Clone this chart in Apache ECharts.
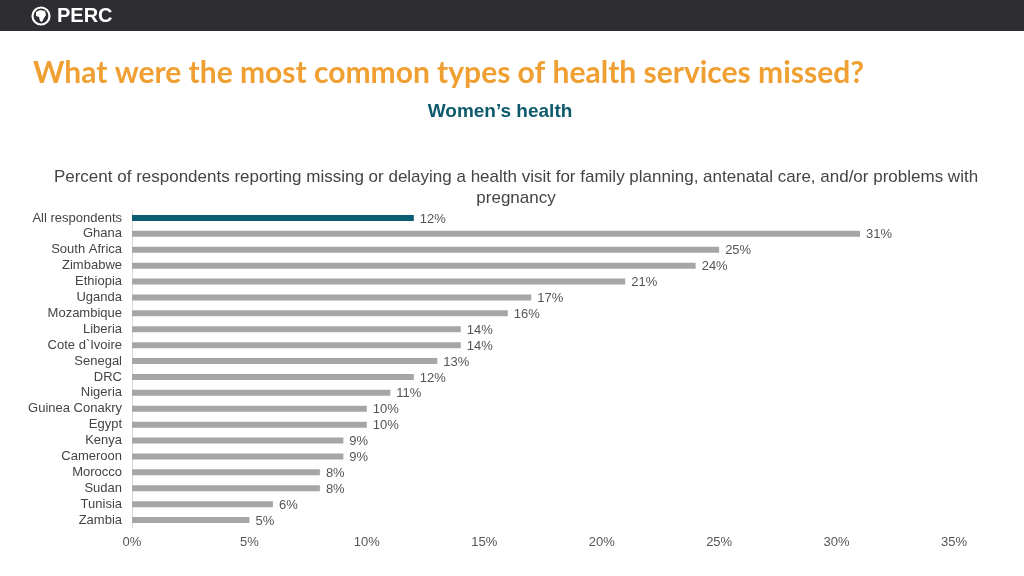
<!DOCTYPE html>
<html>
<head>
<meta charset="utf-8">
<script src="https://cdn.jsdelivr.net/npm/echarts@6/dist/echarts.min.js"></script>
<style>
html,body{margin:0;padding:0;background:#fff;}
#chart{width:1024px;height:576px;}
</style>
</head>
<body>
<div id="chart"></div>
<script>
const categories = ["All respondents","Ghana","South Africa","Zimbabwe","Ethiopia","Uganda","Mozambique","Liberia","Cote d`Ivoire","Senegal","DRC","Nigeria","Guinea Conakry","Egypt","Kenya","Cameroon","Morocco","Sudan","Tunisia","Zambia"];
const values = [12,31,25,24,21,17,16,14,14,13,12,11,10,10,9,9,8,8,6,5];
const highlightCategory = "All respondents";
const pageTitle = "What were the most common types of health services missed?";
const subTitle = "Women’s health";
const chartTitle = "Percent of respondents reporting missing or delaying a health visit for family planning, antenatal care, and/or problems with\npregnancy";

const chart = echarts.init(document.getElementById('chart'), null, {renderer:'canvas'});
chart.setOption({
  animation:false,
  backgroundColor:'#ffffff',
  title:[{
    text: chartTitle,
    left: 511, top: 162, textAlign:'center',
    textStyle:{fontFamily:'Liberation Sans, Arial', fontSize:17, fontWeight:'normal', color:'#444444', lineHeight:21, align:'center'}
  }],
  graphic:[
    {type:'rect', left:0, top:0, shape:{width:1024,height:31}, style:{fill:'#2d2d32'}},
    {type:'circle', shape:{cx:41, cy:16, r:8.5}, style:{fill:'none', stroke:'#ffffff', lineWidth:2.2}},
    {type:'polygon', shape:{points:[[36,12],[40,10],[45,11],[46,15],[44,18],[42,22],[40,21],[39,17],[36,16]]}, style:{fill:'#ffffff'}},
    {type:'text', x:57, y:16, style:{text:'PERC', fill:'#ffffff', font:'bold 20px "Liberation Sans", Arial', textVerticalAlign:'middle', verticalAlign:'middle'}},
    {type:'text', x:33, y:73, style:{text:pageTitle, fill:'#f0a033', font:'bold 30px Lato, "Open Sans", sans-serif', verticalAlign:'middle', textVerticalAlign:'middle'}},
    {type:'text', x:500, y:112, style:{text:subTitle, fill:'#0e5a6c', font:'bold 19px "Liberation Sans", Arial', align:'center', textAlign:'center', verticalAlign:'middle', textVerticalAlign:'middle'}}
  ],
  grid:{left:132, right:70, top:210, bottom:48, containLabel:false},
  xAxis:{
    type:'value', min:0, max:35, interval:5,
    axisLine:{show:false}, axisTick:{show:false}, splitLine:{show:false},
    axisLabel:{formatter:'{value}%', color:'#555555', fontSize:13, fontFamily:'Liberation Sans, Arial', margin:8}
  },
  yAxis:{
    type:'category', data:categories, inverse:true,
    axisLine:{show:true, lineStyle:{color:'#d9d9d9', width:1}},
    axisTick:{show:false},
    axisLabel:{interval:0, color:'#444444', fontSize:13, fontFamily:'Liberation Sans, Arial', margin:10}
  },
  series:[{
    type:'bar',
    data: values.map((v,i)=>({value:v, itemStyle:{color: categories[i]===highlightCategory ? '#0b5d73' : '#a6a6a6'}})),
    barWidth:6,
    label:{show:true, position:'right', distance:6, formatter:'{c}%', color:'#555555', fontSize:13, fontFamily:'Liberation Sans, Arial', offset:[0,1]}
  }]
});
</script>
</body>
</html>
